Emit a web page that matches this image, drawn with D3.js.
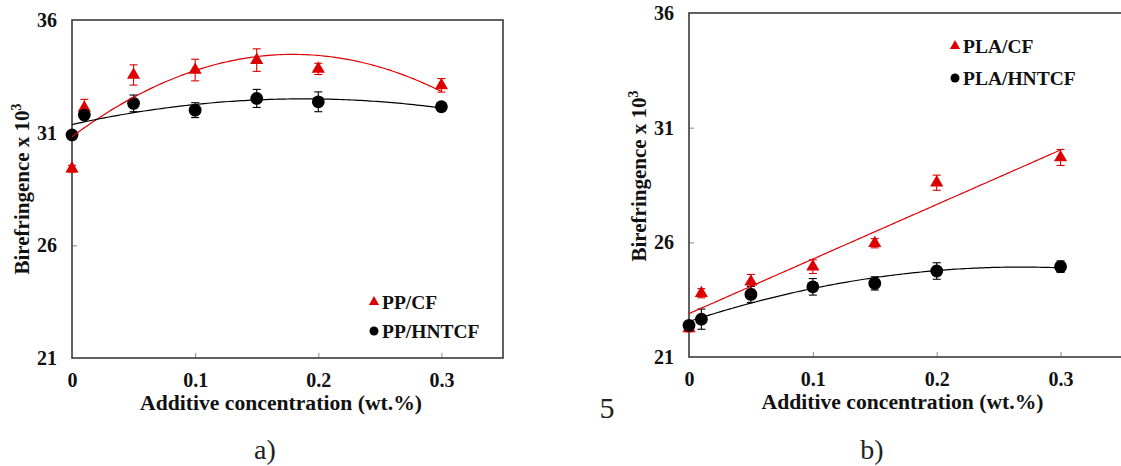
<!DOCTYPE html>
<html>
<head>
<meta charset="utf-8">
<script src="https://cdn.jsdelivr.net/npm/d3@7"></script>
<style>
  html, body { margin: 0; padding: 0; background: #fff; overflow: hidden; }
  svg { display: block; font-family: "Liberation Serif", "Times New Roman", serif; }
</style>
</head>
<body>
<svg id="chart" width="1121" height="466"></svg>
<script>
// Additive concentration (wt.%) shared by both panels
const concentration = [0, 0.01, 0.05, 0.1, 0.15, 0.2, 0.3];

// Panel a) polypropylene composites: birefringence x 10^3 and error
const ppCF        = [29.4, 32.1, 33.56, 33.78, 34.22, 33.83, 33.1];
const ppCFErr     = [0.15, 0.38, 0.45, 0.48, 0.5, 0.25, 0.3];
const ppHNTCF     = [30.9, 31.78, 32.3, 32.0, 32.52, 32.37, 32.15];
const ppHNTCFErr  = [0.1, 0.2, 0.37, 0.33, 0.4, 0.44, 0.15];

// Panel b) polylactide composites
const plaCF       = [22.25, 23.78, 24.28, 24.94, 25.96, 28.6, 29.7];
const plaCFErr    = [0.15, 0.2, 0.32, 0.3, 0.2, 0.33, 0.35];
const plaHNTCF    = [22.38, 22.65, 23.73, 24.06, 24.21, 24.75, 24.94];
const plaHNTCFErr = [0.15, 0.44, 0.35, 0.36, 0.29, 0.36, 0.25];

// Axis ticks
const xTicks = [0, 0.1, 0.2, 0.3];
const yTicks = [21, 26, 31, 36];

const RED = "#dd0000";
const BLACK = "#000000";

// Least-squares polynomial fit (trendline), returns coefficients a0..an
function polyFit(xs, ys, degree) {
  const n = degree + 1;
  const A = Array.from({length: n}, () => new Array(n + 1).fill(0));
  for (let r = 0; r < n; r++) {
    for (let c = 0; c < n; c++) {
      A[r][c] = d3.sum(xs, x => Math.pow(x, r + c));
    }
    A[r][n] = d3.sum(xs.map((x, i) => Math.pow(x, r) * ys[i]));
  }
  for (let i = 0; i < n; i++) {
    let p = i;
    for (let k = i + 1; k < n; k++) if (Math.abs(A[k][i]) > Math.abs(A[p][i])) p = k;
    [A[i], A[p]] = [A[p], A[i]];
    for (let k = i + 1; k < n; k++) {
      const f = A[k][i] / A[i][i];
      for (let j = i; j <= n; j++) A[k][j] -= f * A[i][j];
    }
  }
  const coef = new Array(n).fill(0);
  for (let i = n - 1; i >= 0; i--) {
    let s = A[i][n];
    for (let j = i + 1; j < n; j++) s -= A[i][j] * coef[j];
    coef[i] = s / A[i][i];
  }
  return coef;
}

const svg = d3.select("#chart");
const triangle = d3.symbol().type(d3.symbolTriangle);

function panel(cfg) {
  const g = svg.append("g");
  const x = d3.scaleLinear().domain([0, 0.35]).range([cfg.left, cfg.right]);
  const y = d3.scaleLinear().domain([21, 36]).range([cfg.bottom, cfg.top]);

  // inner ticks + labels
  const xAxis = g.append("g")
    .attr("transform", `translate(0,${cfg.bottom})`)
    .call(d3.axisBottom(x).tickValues(xTicks).tickSize(-5).tickPadding(15)
      .tickFormat(d => d === 0 ? "0" : d3.format(".1f")(d)));
  const yAxis = g.append("g")
    .attr("transform", `translate(${cfg.left},0)`)
    .call(d3.axisLeft(y).tickValues(yTicks).tickSize(-5).tickPadding(15));
  [xAxis, yAxis].forEach(a => {
    a.select(".domain").remove();
    a.selectAll(".tick line").attr("stroke", "#8a8a8a").attr("stroke-width", 1);
    a.selectAll(".tick text")
      .attr("font-family", "Liberation Serif, Times New Roman, serif")
      .attr("font-weight", "bold").attr("font-size", 20).attr("fill", "#111");
  });
  xAxis.selectAll(".tick").filter(d => d === 0).select("line").remove();
  yAxis.selectAll(".tick").filter(d => d === 21 || d === 36).select("line").remove();

  // plot frame
  g.append("rect")
    .attr("x", cfg.left).attr("y", cfg.top)
    .attr("width", cfg.right - cfg.left).attr("height", cfg.bottom - cfg.top)
    .attr("fill", "none").attr("stroke", "#3a3a3a").attr("stroke-width", 1.6);

  // trendlines
  const curve = d3.line().x(d => x(d[0])).y(d => y(d[1]));
  cfg.series.forEach(s => {
    const coef = polyFit(concentration, s.values, s.degree);
    s.fitPath = d3.range(0, 0.3 + 1e-9, 0.0025)
      .map(t => [t, coef.reduce((acc, c, i) => acc + c * Math.pow(t, i), 0)]);
  });

  // error bars + markers, CF series first so HNTCF sits on top
  cfg.series.forEach(s => {
    const eg = g.append("g").attr("stroke", s.color).attr("stroke-width", 1.1);
    concentration.forEach((c, i) => {
      const cx = x(c), y0 = y(s.values[i] - s.errors[i]), y1 = y(s.values[i] + s.errors[i]);
      eg.append("line").attr("x1", cx).attr("x2", cx).attr("y1", y0).attr("y2", y1);
      eg.append("line").attr("x1", cx - 4).attr("x2", cx + 4).attr("y1", y0).attr("y2", y0);
      eg.append("line").attr("x1", cx - 4).attr("x2", cx + 4).attr("y1", y1).attr("y2", y1);
    });
    const mg = g.append("g").attr("fill", s.color);
    if (s.shape === "triangle") {
      mg.selectAll("path").data(concentration).join("path")
        .attr("d", triangle.size(75)())
        .attr("transform", (c, i) => `translate(${x(c)},${y(s.values[i])})`);
    } else {
      mg.selectAll("circle").data(concentration).join("circle")
        .attr("cx", c => x(c)).attr("cy", (c, i) => y(s.values[i])).attr("r", 6.4);
    }
  });

  cfg.series.forEach(s => {
    g.append("path").datum(s.fitPath)
      .attr("d", curve).attr("fill", "none")
      .attr("stroke", s.color).attr("stroke-width", 1.2);
  });

  // legend
  cfg.series.forEach((s, i) => {
    const ly = cfg.legendY + i * cfg.legendGap;
    if (s.shape === "triangle") {
      g.append("path").attr("d", triangle.size(45)())
        .attr("transform", `translate(${cfg.legendX},${ly})`).attr("fill", s.color);
    } else {
      g.append("circle").attr("cx", cfg.legendX).attr("cy", ly).attr("r", 4.5).attr("fill", s.color);
    }
    g.append("text").attr("x", cfg.legendX + 8).attr("y", ly + 7)
      .attr("font-weight", "bold").attr("font-size", 19.5).attr("fill", "#111")
      .text(s.name);
  });

  // axis titles
  g.append("text")
    .attr("x", cfg.xTitleX).attr("y", cfg.bottom + 52)
    .attr("text-anchor", "middle").attr("font-weight", "bold").attr("font-size", 20.5)
    .attr("fill", "#111")
    .attr("textLength", 282).attr("lengthAdjust", "spacingAndGlyphs")
    .text("Additive concentration (wt.%)");

  const yt = g.append("text")
    .attr("transform", `translate(${cfg.yTitleX},${cfg.yTitleY}) rotate(-90)`)
    .attr("text-anchor", "middle").attr("font-weight", "bold").attr("font-size", 21)
    .attr("fill", "#111");
  yt.append("tspan").text("Birefringence x 10");
  yt.append("tspan").attr("dy", -8).attr("font-size", 14).text("3");

  // panel caption
  svg.append("text").attr("x", cfg.captionX).attr("y", 459)
    .attr("text-anchor", "middle").attr("font-size", 28).attr("fill", "#222")
    .text(cfg.caption);
}

panel({
  left: 72, right: 503, top: 20, bottom: 358,
  legendX: 374, legendY: 302, legendGap: 29, xTitleX: 281,
  yTitleX: 29, yTitleY: 189,
  caption: "a)", captionX: 265,
  series: [
    {name: "PP/CF", values: ppCF, errors: ppCFErr, color: RED, shape: "triangle", degree: 2},
    {name: "PP/HNTCF", values: ppHNTCF, errors: ppHNTCFErr, color: BLACK, shape: "circle", degree: 2}
  ]
});

panel({
  left: 689, right: 1122.5, top: 13, bottom: 357,
  legendX: 955, legendY: 46, legendGap: 32, xTitleX: 902.5,
  yTitleX: 646, yTitleY: 176,
  caption: "b)", captionX: 872,
  series: [
    {name: "PLA/CF", values: plaCF, errors: plaCFErr, color: RED, shape: "triangle", degree: 1},
    {name: "PLA/HNTCF", values: plaHNTCF, errors: plaHNTCFErr, color: BLACK, shape: "circle", degree: 2}
  ]
});

// stray page number between the panels
svg.append("text").attr("x", 607).attr("y", 418)
  .attr("text-anchor", "middle").attr("font-size", 30).attr("fill", "#222").text("5");
</script>
</body>
</html>
